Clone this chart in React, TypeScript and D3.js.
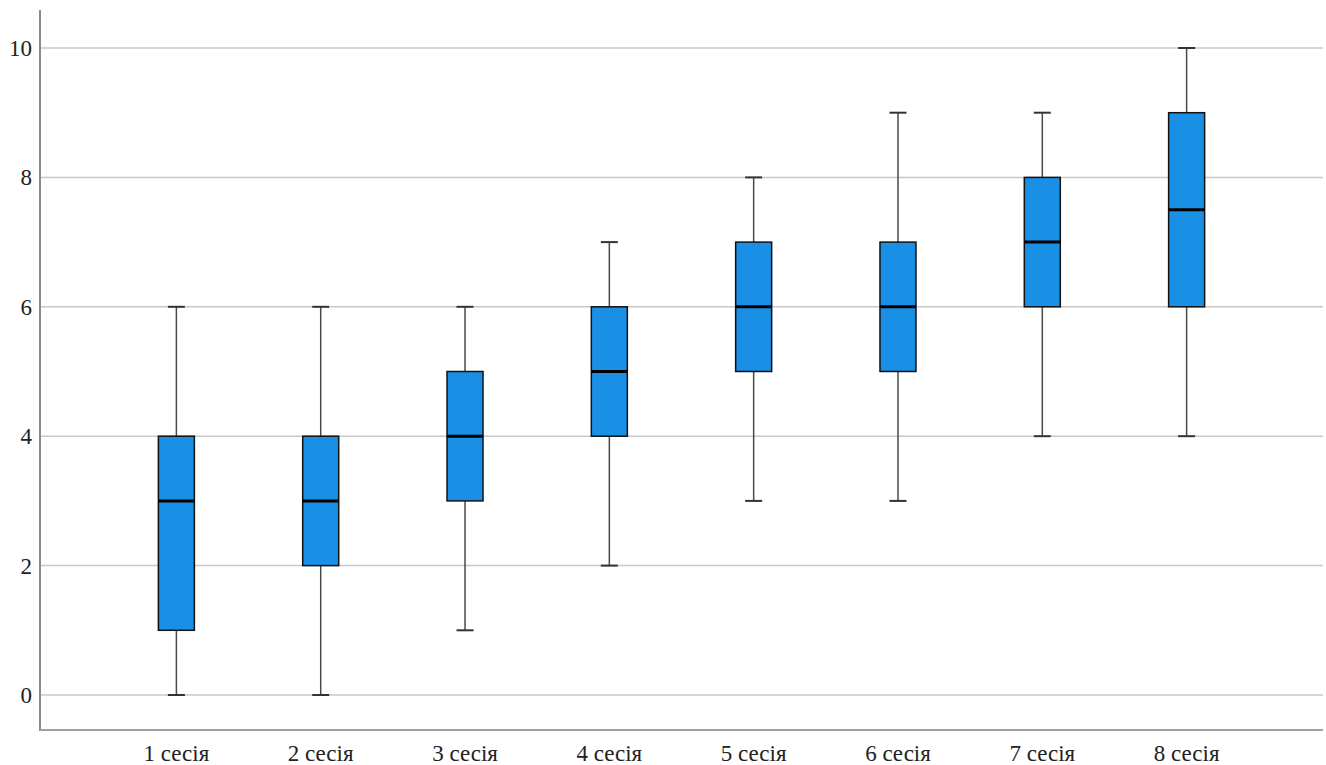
import React from "react";
import * as d3 from "d3";

const sessions = ["1 сесія", "2 сесія", "3 сесія", "4 сесія", "5 сесія", "6 сесія", "7 сесія", "8 сесія"];
const mins = [0, 0, 1, 2, 3, 3, 4, 4];
const q1s = [1, 2, 3, 4, 5, 5, 6, 6];
const medians = [3, 3, 4, 5, 6, 6, 7, 7.5];
const q3s = [4, 4, 5, 6, 7, 7, 8, 9];
const maxs = [6, 6, 6, 7, 8, 9, 9, 10];
const yTicks = [0, 2, 4, 6, 8, 10];

const W = 1326;
const H = 765;
const left = 40;
const right = 1323;
const top = 10;
const bottom = 730;

export default function App() {
  const ref = React.useRef<SVGSVGElement>(null);

  React.useEffect(() => {
    const svg = d3.select(ref.current);
    svg.selectAll("*").remove();

    const y = d3.scaleLinear().domain([0, 10]).range([695, 48]);
    const x = d3.scalePoint().domain(sessions).range([left, right]).padding(0.945);

    const boxW = 36;
    const capW = 17;
    const font = "Liberation Serif, DejaVu Serif, serif";

    // grid
    svg
      .append("g")
      .selectAll("line")
      .data(yTicks)
      .join("line")
      .attr("x1", left)
      .attr("x2", right)
      .attr("y1", (d) => y(d))
      .attr("y2", (d) => y(d))
      .attr("stroke", "#c8c8c8")
      .attr("stroke-width", 1.5);

    // axes
    svg.append("line").attr("x1", left).attr("x2", left).attr("y1", top).attr("y2", bottom + 1)
      .attr("stroke", "#8a8a8a").attr("stroke-width", 2);
    svg.append("line").attr("x1", left).attr("x2", right).attr("y1", bottom).attr("y2", bottom)
      .attr("stroke", "#a0a0a0").attr("stroke-width", 2);

    svg
      .append("g")
      .selectAll("text")
      .data(yTicks)
      .join("text")
      .attr("x", 32)
      .attr("y", (d) => y(d))
      .attr("dy", "0.35em")
      .attr("text-anchor", "end")
      .style("font-family", font)
      .style("font-size", "23px")
      .attr("fill", "#222")
      .text((d) => d);

    svg
      .append("g")
      .selectAll("text")
      .data(sessions)
      .join("text")
      .attr("x", (d) => x(d)!)
      .attr("y", 761)
      .attr("text-anchor", "middle")
      .style("font-family", font)
      .style("font-size", "23px")
      .attr("fill", "#222")
      .text((d) => d);

    const boxes = svg
      .append("g")
      .selectAll("g")
      .data(sessions)
      .join("g")
      .attr("transform", (d) => `translate(${x(d)},0)`);

    // whiskers
    boxes.append("line").attr("x1", 0).attr("x2", 0)
      .attr("y1", (_, i) => y(maxs[i])).attr("y2", (_, i) => y(q3s[i]))
      .attr("stroke", "#4a4a4a").attr("stroke-width", 1.5);
    boxes.append("line").attr("x1", 0).attr("x2", 0)
      .attr("y1", (_, i) => y(q1s[i])).attr("y2", (_, i) => y(mins[i]))
      .attr("stroke", "#4a4a4a").attr("stroke-width", 1.5);
    boxes.append("line").attr("x1", -capW / 2).attr("x2", capW / 2)
      .attr("y1", (_, i) => y(maxs[i])).attr("y2", (_, i) => y(maxs[i]))
      .attr("stroke", "#333").attr("stroke-width", 2);
    boxes.append("line").attr("x1", -capW / 2).attr("x2", capW / 2)
      .attr("y1", (_, i) => y(mins[i])).attr("y2", (_, i) => y(mins[i]))
      .attr("stroke", "#333").attr("stroke-width", 2);

    boxes
      .append("rect")
      .attr("x", -boxW / 2)
      .attr("width", boxW)
      .attr("y", (_, i) => y(q3s[i]))
      .attr("height", (_, i) => y(q1s[i]) - y(q3s[i]))
      .attr("fill", "#1a8fe6")
      .attr("stroke", "#111")
      .attr("stroke-width", 1.5);

    boxes.append("line").attr("x1", -boxW / 2).attr("x2", boxW / 2)
      .attr("y1", (_, i) => y(medians[i])).attr("y2", (_, i) => y(medians[i]))
      .attr("stroke", "#000").attr("stroke-width", 3);
  }, []);

  return (
    <svg
      ref={ref}
      width={W}
      height={H}
      style={{ position: "absolute", left: 0, top: 0, background: "#fff" }}
    />
  );
}
